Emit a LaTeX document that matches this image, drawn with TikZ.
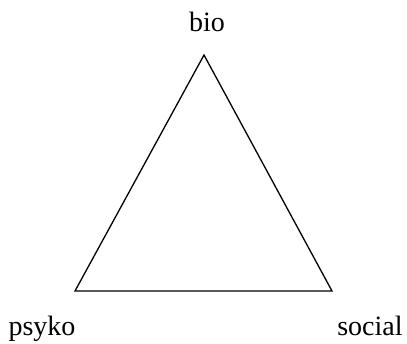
\documentclass[tikz,border=0pt]{standalone}
\usepackage{fontspec}
\setmainfont{Liberation Serif}
\begin{document}
\begin{tikzpicture}[x=1pt,y=-1pt,
  lbl/.style={anchor=base,inner sep=0pt,font=\fontsize{28}{33}\selectfont},
  edge/.style={draw=black,line width=1.3pt,line join=miter}]
\useasboundingbox (0,0) rectangle (407,344);
\coordinate (top) at (204,55);
\coordinate (left) at (75,291);
\coordinate (right) at (332,291);
\draw[edge] (top) -- (left) -- (right) -- cycle;
\node[lbl] (bio) at (207,32) {bio};
\node[lbl] (psyko) at (42,336) {psyko};
\node[lbl] (social) at (370,336) {social};
\end{tikzpicture}
\end{document}
